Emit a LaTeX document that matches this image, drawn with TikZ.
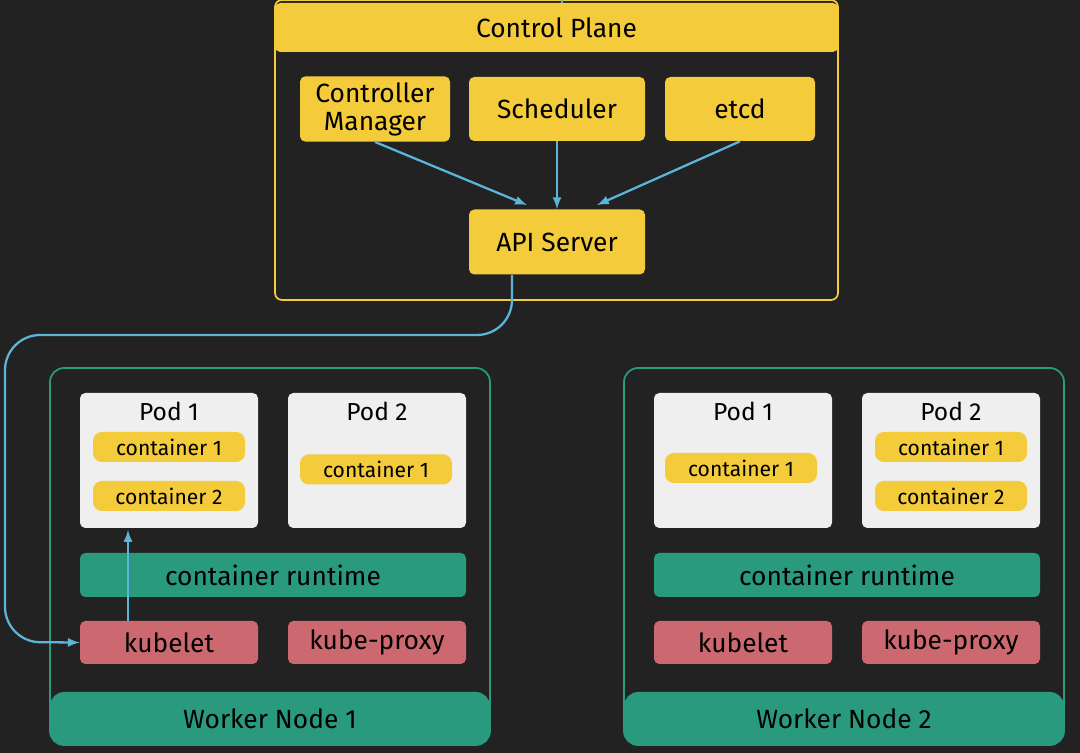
\documentclass[tikz,border=0pt]{standalone}
\usepackage{fontspec}
\setmainfont{Fira Sans}
\usetikzlibrary{positioning}
\definecolor{bg}{HTML}{222222}
\definecolor{cpyellow}{HTML}{F4CB3A}
\definecolor{wgreen}{HTML}{2A9A7E}
\definecolor{kred}{HTML}{CC6870}
\definecolor{podwhite}{HTML}{EFEFEF}
\definecolor{linkblue}{HTML}{5BB5DA}
\begin{document}
\begin{tikzpicture}[x=0.02cm,y=-0.02cm,
        box/.style = {rounded corners=3pt, text=black, font=\fontsize{15}{15}\selectfont},
        comp/.style = {box, fill=cpyellow},
        pod/.style = {box, fill=podwhite},
        ctr/.style = {box, fill=cpyellow, rounded corners=5pt, font=\fontsize{12}{12}\selectfont},
        run/.style = {box, fill=wgreen},
        agent/.style = {box, fill=kred},
        link/.style = {draw=linkblue, line width=1.3pt, -latex}
        ]
        \fill[bg] (0,0) rectangle (1080,753);
        \useasboundingbox (0,0) rectangle (1080,753);
        % control plane
        \draw[cpyellow, line width=1pt, rounded corners=4pt] (275,0) rectangle (838,300);
        \draw[linkblue, line width=1.3pt] (562,0) -- (562,3);
        \node (cp) [comp, minimum width=563*0.02cm, minimum height=49*0.02cm] at (556.5,27.5) {Control Plane};
        \node (cm) [comp, minimum width=150*0.02cm, minimum height=64*0.02cm, align=center, font=\fontsize{15}{16}\selectfont] at (375,109) {Controller\\Manager};
        \node (sch) [comp, minimum width=176*0.02cm, minimum height=64*0.02cm] at (557,109) {Scheduler};
        \node (etcd) [comp, minimum width=150*0.02cm, minimum height=64*0.02cm] at (740,109) {etcd};
        \node (api) [comp, minimum width=176*0.02cm, minimum height=65*0.02cm] at (557,242) {API Server};
        \draw[link] (cm.south) -- (527,205);
        \draw[link] (sch.south) -- (api.north);
        \draw[link] (etcd.south) -- (597,205);
        % worker nodes
        \foreach \dx/\n in {0/1,574/2} {
            \begin{scope}[xshift=\dx*0.02cm]
            \draw[wgreen, line width=1pt, rounded corners=8pt] (50,368) rectangle (490,745);
            \node (wn\n) [run, minimum width=440*0.02cm, minimum height=53*0.02cm, rounded corners=8pt] at (270,718.5) {Worker Node \n};
            \node (rt\n) [run, minimum width=386*0.02cm, minimum height=44*0.02cm] at (273,575) {container runtime};
            \node (kl\n) [agent, minimum width=178*0.02cm, minimum height=43*0.02cm] at (169,642.5) {kubelet};
            \node (kp\n) [agent, minimum width=178*0.02cm, minimum height=43*0.02cm] at (377,642.5) {kube-proxy};
            \node (pa\n) [pod, minimum width=178*0.02cm, minimum height=135*0.02cm] at (169,460.5) {};
            \node (pb\n) [pod, minimum width=178*0.02cm, minimum height=135*0.02cm] at (377,460.5) {};
            \node [text=black, font=\fontsize{14}{14}\selectfont] at (169,411) {Pod 1};
            \node [text=black, font=\fontsize{14}{14}\selectfont] at (377,411) {Pod 2};
            \end{scope}
        }
        \node (c11) [ctr, minimum width=152*0.02cm, minimum height=30*0.02cm] at (169,447) {container 1};
        \node (c12) [ctr, minimum width=152*0.02cm, minimum height=30*0.02cm] at (169,496) {container 2};
        \node (c21) [ctr, minimum width=152*0.02cm, minimum height=30*0.02cm] at (376,469.5) {container 1};
        \node (d11) [ctr, minimum width=152*0.02cm, minimum height=30*0.02cm] at (741,468) {container 1};
        \node (d21) [ctr, minimum width=152*0.02cm, minimum height=30*0.02cm] at (951,447) {container 1};
        \node (d22) [ctr, minimum width=152*0.02cm, minimum height=30*0.02cm] at (951,496) {container 2};
        % links to worker node 1
        \draw[link, rounded corners=20pt] (512,275) -- (512,335) -- (5,335) -- (5,642) -- (kl1.west);
        \draw[link] (128,621) -- (128,530);
\end{tikzpicture}
\end{document}
